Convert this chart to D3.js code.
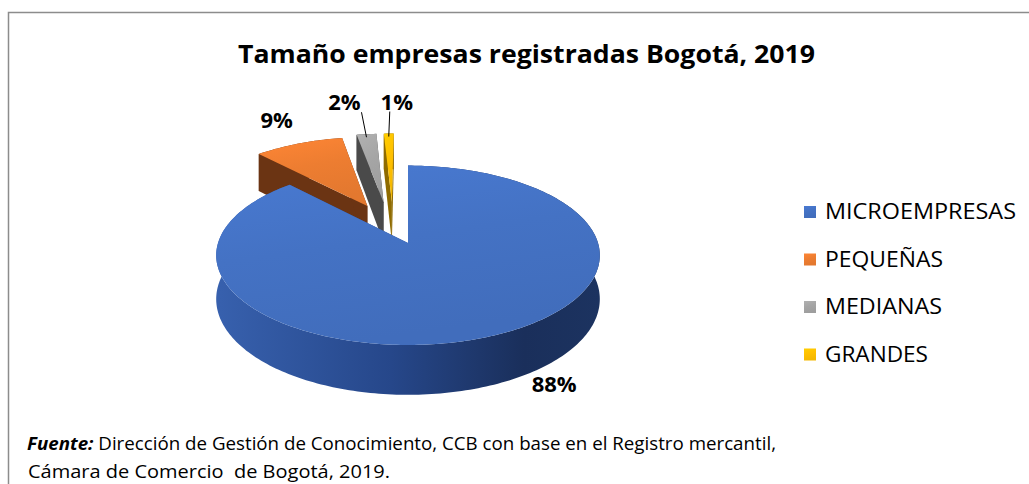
<!doctype html>
<html lang="es">
<head>
<meta charset="UTF-8">
<title>Tamaño empresas registradas Bogotá, 2019</title>
<script src="https://d3js.org/d3.v7.min.js"></script>
<style>
  body { margin: 0; background: #fff; }
  svg { display: block; font-family: "Open Sans", sans-serif; }
</style>
</head>
<body>
<script>
// datos
var categorias = ['MICROEMPRESAS', 'PEQUEÑAS', 'MEDIANAS', 'GRANDES'];
var valores = [88, 9, 2, 1];
var etiquetas = ['88%', '9%', '2%', '1%'];
var colores = ['#4472C4', '#ED7D31', '#A5A5A5', '#FFC000'];
var coloresLado = ['#2a4d93', '#6b3413', '#4a4a4a', '#8f6b00'];
var separacion = [0, 0.5, 0.5, 0.5];

var width = 1029, height = 484;

var svg = d3.select('body').append('svg')
  .attr('width', width)
  .attr('height', height);

// marco
svg.append('path')
  .attr('d', 'M8.5,' + height + ' V12.5 H' + width)
  .attr('fill', 'none')
  .attr('stroke', '#8c8c8c')
  .attr('stroke-width', 1.5);

svg.append('text')
  .attr('x', 238).attr('y', 63)
  .attr('font-size', 25).attr('font-weight', 'bold')
  .attr('textLength', 577).attr('lengthAdjust', 'spacingAndGlyphs')
  .attr('fill', '#000')
  .text('Tamaño empresas registradas Bogotá, 2019');

// proyeccion en perspectiva del pastel 3D
var cx = 408, cy = 243, RX = 190, RY = 88, DEPTH = 43, P = 0.137;
function proj(a, r, h, off) {
  var X = r * Math.sin(a) + off[0];
  var Z = -r * Math.cos(a) + off[1];
  var s = 1 / (1 - P * Z);
  return [cx + RX * X * s, cy + (RY * Z + DEPTH * h) * s];
}
function arco(a0, a1, h, off) {
  var n = Math.max(2, Math.ceil(Math.abs(a1 - a0) / 0.02));
  return d3.range(n + 1).map(function(i) {
    return proj(a0 + (a1 - a0) * i / n, 1, h, off);
  });
}
var line = d3.line();

var pie = d3.pie().sort(null).value(function(d) { return d; });
var arcs = pie(valores).map(function(d, i) {
  var mid = (d.startAngle + d.endAngle) / 2;
  var k = separacion[i];
  d.off = [k * Math.sin(mid), -k * Math.cos(mid)];
  // las porciones delgadas quedan algo corridas a la izquierda
  if (i >= 2) d.off[0] -= 0.075;
  d.mid = mid;
  return d;
});

var defs = svg.append('defs');
colores.forEach(function(c, i) {
  var g = defs.append('linearGradient').attr('id', 'top' + i)
    .attr('x1', 0).attr('y1', 0).attr('x2', 0.3).attr('y2', 1);
  g.append('stop').attr('offset', 0).attr('stop-color', d3.color(c).brighter(0.2));
  g.append('stop').attr('offset', 0.5).attr('stop-color', d3.color(c));
  g.append('stop').attr('offset', 1).attr('stop-color', d3.color(c).darker(0.12));
});
var gs = defs.append('linearGradient').attr('id', 'side0')
  .attr('gradientUnits', 'userSpaceOnUse')
  .attr('x1', 220).attr('y1', 0).attr('x2', 600).attr('y2', 0);
gs.append('stop').attr('offset', 0).attr('stop-color', '#3760ad');
gs.append('stop').attr('offset', 0.45).attr('stop-color', '#26478a');
gs.append('stop').attr('offset', 0.8).attr('stop-color', '#1a2f5b');
gs.append('stop').attr('offset', 1).attr('stop-color', '#1c3360');

var pieG = svg.append('g');
// orden de dibujo: porciones separadas primero, la grande al final
[1, 2, 3, 0].forEach(function(i) {
  var d = arcs[i];
  var g = pieG.append('g');
  var ladoColor = i === 0 ? 'url(#side0)' : coloresLado[i];
  // lado exterior
  var sup = arco(d.startAngle, d.endAngle, 0, d.off);
  var inf = arco(d.startAngle, d.endAngle, 1, d.off).reverse();
  g.append('path').attr('d', line(sup.concat(inf)) + 'Z').attr('fill', ladoColor);
  // caras radiales
  [d.startAngle, d.endAngle].forEach(function(a) {
    var c0 = proj(0, 0, 0, d.off), c1 = proj(0, 0, 1, d.off);
    var e0 = proj(a, 1, 0, d.off), e1 = proj(a, 1, 1, d.off);
    g.append('path').attr('d', line([c0, e0, e1, c1]) + 'Z')
      .attr('fill', i === 0 ? '#2a4d93' : coloresLado[i]);
  });
  // cara superior
  var top = [proj(0, 0, 0, d.off)].concat(arco(d.startAngle, d.endAngle, 0, d.off));
  g.append('path').attr('d', line(top) + 'Z').attr('fill', 'url(#top' + i + ')');
});

// etiquetas de datos
var lblG = svg.append('g').attr('font-weight', 'bold').attr('font-size', 22)
  .attr('text-anchor', 'middle').attr('fill', '#000');
var ajuste = [[66, -2], [-4, -7], [-22, -32], [8, -31]];
arcs.forEach(function(d, i) {
  var p = i === 0 ? proj(d.mid, 1, 1, d.off) : proj(d.mid, 1.3, 0, d.off);
  if (i >= 2) {
    var a = proj(d.mid, 1, 0, d.off);
    p = [a[0] + ajuste[i][0], a[1] + ajuste[i][1]];
    lblG.append('line')
      .attr('x1', a[0]).attr('y1', a[1] + 3)
      .attr('x2', a[0] + (i === 2 ? -5 : 1)).attr('y2', a[1] - 22)
      .attr('stroke', '#000').attr('stroke-width', 1);
  } else {
    p = [p[0] + ajuste[i][0], p[1] + ajuste[i][1]];
  }
  lblG.append('text').attr('x', p[0]).attr('y', p[1]).attr('dy', '0.35em').text(etiquetas[i]);
});

// leyenda
var leg = svg.append('g').attr('transform', 'translate(804,212)');
var item = leg.selectAll('g').data(categorias).enter().append('g')
  .attr('transform', function(d, i) { return 'translate(0,' + i * 47.5 + ')'; });
item.append('rect').attr('x', 0).attr('y', -6).attr('width', 12).attr('height', 12)
  .attr('fill', function(d, i) { return 'url(#top' + i + ')'; });
var anchos = [191, 118, 117, 103];
item.append('text').attr('x', 21).attr('y', 0).attr('dy', '0.35em')
  .attr('font-size', 21).attr('fill', '#000')
  .attr('textLength', function(d, i) { return anchos[i]; })
  .attr('lengthAdjust', 'spacingAndGlyphs')
  .text(function(d) { return d; });

// fuente
var fuente = svg.append('g').attr('font-size', 18).attr('fill', '#000');
var t1 = fuente.append('text').attr('x', 27).attr('y', 450)
  .attr('textLength', 749).attr('lengthAdjust', 'spacingAndGlyphs');
t1.append('tspan').attr('font-weight', 'bold').attr('font-style', 'italic').text('Fuente:');
t1.append('tspan').text(' Dirección de Gestión de Conocimiento, CCB con base en el Registro mercantil,');
fuente.append('text').attr('x', 28).attr('y', 478)
  .attr('xml:space', 'preserve')
  .attr('textLength', 362).attr('lengthAdjust', 'spacingAndGlyphs')
  .text('Cámara de Comercio  de Bogotá, 2019.');
</script>
</body>
</html>
